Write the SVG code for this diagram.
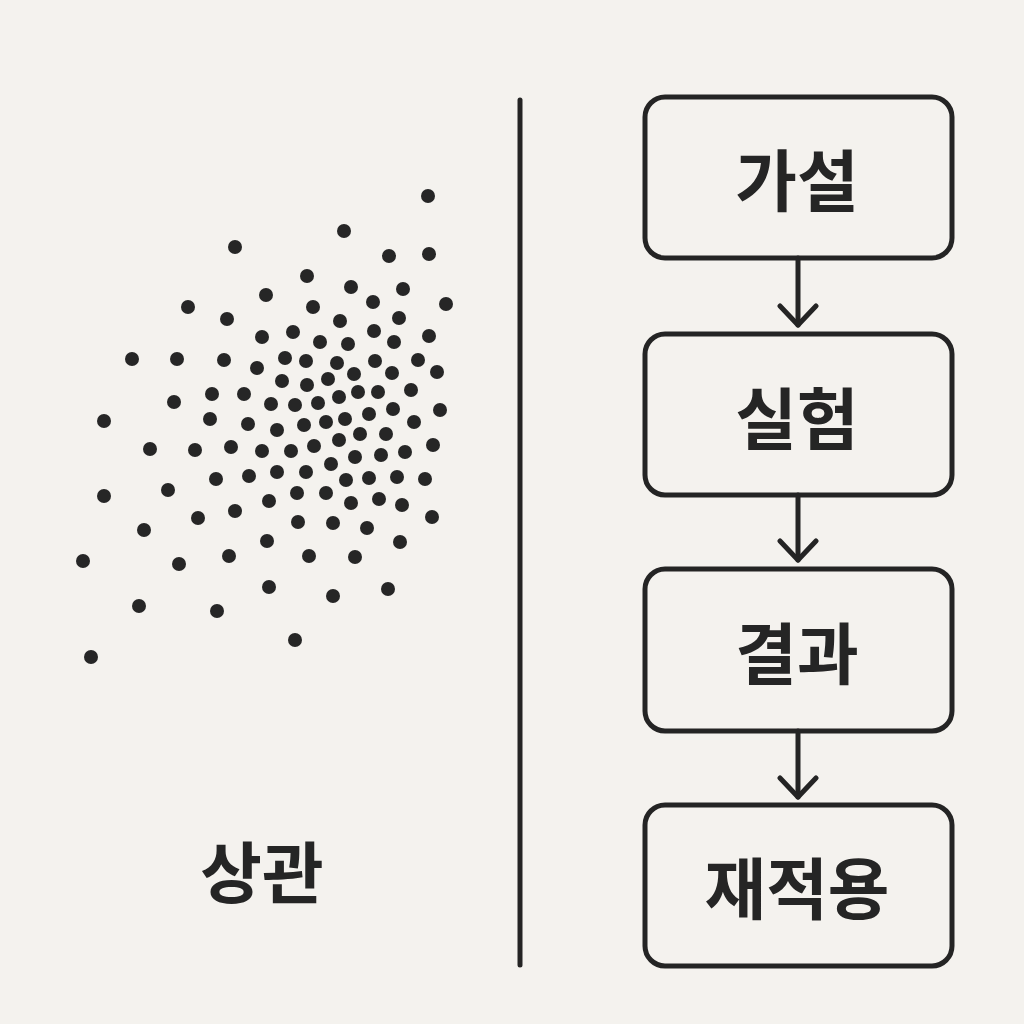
<svg xmlns="http://www.w3.org/2000/svg" width="1024" height="1024" viewBox="0 0 1024 1024">
<style>
.bg{fill:#f4f2ee}
.dot{fill:#262626}
.box{fill:none;stroke:#242424;stroke-width:5}
.lbl{font-family:"Noto Sans CJK KR","Noto Sans",sans-serif;font-weight:700;font-size:67px;fill:#252525;text-anchor:middle;dominant-baseline:central}
.con{fill:none;stroke:#242424;stroke-width:5;stroke-linecap:round;stroke-linejoin:round}
.div{stroke:#242424;stroke-width:5;stroke-linecap:round}
</style>
<defs>
<marker id="arr" viewBox="-22 -22 44 44" markerWidth="44" markerHeight="44" refX="0" refY="0" orient="auto" markerUnits="userSpaceOnUse">
<path d="M-19,-18 L0,0 L-19,18" fill="none" stroke="#242424" stroke-width="5" stroke-linecap="round" stroke-linejoin="round"/>
</marker>
</defs>
<rect class="bg" x="0" y="0" width="1024" height="1024"/>
<g id="scatter">
<circle class="dot" cx="235" cy="247" r="7"/><circle class="dot" cx="266" cy="295" r="7"/><circle class="dot" cx="188" cy="307" r="7"/><circle class="dot" cx="227" cy="319" r="7"/><circle class="dot" cx="262" cy="337" r="7"/>
<circle class="dot" cx="428" cy="196" r="7"/><circle class="dot" cx="344" cy="231" r="7"/><circle class="dot" cx="389" cy="256" r="7"/><circle class="dot" cx="429" cy="254" r="7"/><circle class="dot" cx="307" cy="276" r="7"/>
<circle class="dot" cx="351" cy="287" r="7"/><circle class="dot" cx="403" cy="289" r="7"/><circle class="dot" cx="373" cy="302" r="7"/><circle class="dot" cx="446" cy="304" r="7"/><circle class="dot" cx="313" cy="307" r="7"/>
<circle class="dot" cx="340" cy="321" r="7"/><circle class="dot" cx="399" cy="318" r="7"/><circle class="dot" cx="293" cy="332" r="7"/><circle class="dot" cx="374" cy="331" r="7"/><circle class="dot" cx="429" cy="336" r="7"/>
<circle class="dot" cx="320" cy="342" r="7"/><circle class="dot" cx="348" cy="344" r="7"/><circle class="dot" cx="394" cy="342" r="7"/><circle class="dot" cx="132" cy="359" r="7"/><circle class="dot" cx="177" cy="359" r="7"/>
<circle class="dot" cx="224" cy="360" r="7"/><circle class="dot" cx="257" cy="368" r="7"/><circle class="dot" cx="174" cy="402" r="7"/><circle class="dot" cx="212" cy="394" r="7"/><circle class="dot" cx="244" cy="394" r="7"/>
<circle class="dot" cx="271" cy="404" r="7"/><circle class="dot" cx="104" cy="421" r="7"/><circle class="dot" cx="210" cy="419" r="7"/><circle class="dot" cx="248" cy="424" r="7"/><circle class="dot" cx="150" cy="449" r="7"/>
<circle class="dot" cx="195" cy="450" r="7"/><circle class="dot" cx="231" cy="447" r="7"/><circle class="dot" cx="262" cy="451" r="7"/><circle class="dot" cx="216" cy="479" r="7"/><circle class="dot" cx="249" cy="476" r="7"/>
<circle class="dot" cx="168" cy="490" r="7"/><circle class="dot" cx="104" cy="496" r="7"/><circle class="dot" cx="235" cy="511" r="7"/><circle class="dot" cx="269" cy="501" r="7"/><circle class="dot" cx="285" cy="358" r="7"/>
<circle class="dot" cx="306" cy="361" r="7"/><circle class="dot" cx="337" cy="363" r="7"/><circle class="dot" cx="375" cy="361" r="7"/><circle class="dot" cx="418" cy="360" r="7"/><circle class="dot" cx="282" cy="381" r="7"/>
<circle class="dot" cx="307" cy="385" r="7"/><circle class="dot" cx="328" cy="379" r="7"/><circle class="dot" cx="354" cy="374" r="7"/><circle class="dot" cx="392" cy="373" r="7"/><circle class="dot" cx="437" cy="372" r="7"/>
<circle class="dot" cx="295" cy="405" r="7"/><circle class="dot" cx="318" cy="403" r="7"/><circle class="dot" cx="339" cy="397" r="7"/><circle class="dot" cx="358" cy="392" r="7"/><circle class="dot" cx="378" cy="392" r="7"/>
<circle class="dot" cx="411" cy="390" r="7"/><circle class="dot" cx="440" cy="410" r="7"/><circle class="dot" cx="393" cy="409" r="7"/><circle class="dot" cx="369" cy="414" r="7"/><circle class="dot" cx="345" cy="419" r="7"/>
<circle class="dot" cx="326" cy="422" r="7"/><circle class="dot" cx="304" cy="425" r="7"/><circle class="dot" cx="277" cy="430" r="7"/><circle class="dot" cx="414" cy="422" r="7"/><circle class="dot" cx="386" cy="434" r="7"/>
<circle class="dot" cx="360" cy="434" r="7"/><circle class="dot" cx="339" cy="440" r="7"/><circle class="dot" cx="314" cy="446" r="7"/><circle class="dot" cx="291" cy="451" r="7"/><circle class="dot" cx="433" cy="445" r="7"/>
<circle class="dot" cx="405" cy="452" r="7"/><circle class="dot" cx="381" cy="455" r="7"/><circle class="dot" cx="355" cy="457" r="7"/><circle class="dot" cx="331" cy="464" r="7"/><circle class="dot" cx="306" cy="472" r="7"/>
<circle class="dot" cx="277" cy="472" r="7"/><circle class="dot" cx="346" cy="480" r="7"/><circle class="dot" cx="369" cy="478" r="7"/><circle class="dot" cx="397" cy="477" r="7"/><circle class="dot" cx="425" cy="479" r="7"/>
<circle class="dot" cx="297" cy="493" r="7"/><circle class="dot" cx="326" cy="493" r="7"/><circle class="dot" cx="379" cy="499" r="7"/><circle class="dot" cx="351" cy="503" r="7"/><circle class="dot" cx="402" cy="505" r="7"/>
<circle class="dot" cx="198" cy="518" r="7"/><circle class="dot" cx="144" cy="530" r="7"/><circle class="dot" cx="267" cy="541" r="7"/><circle class="dot" cx="229" cy="556" r="7"/><circle class="dot" cx="83" cy="561" r="7"/>
<circle class="dot" cx="179" cy="564" r="7"/><circle class="dot" cx="269" cy="587" r="7"/><circle class="dot" cx="139" cy="606" r="7"/><circle class="dot" cx="217" cy="611" r="7"/><circle class="dot" cx="91" cy="657" r="7"/>
<circle class="dot" cx="298" cy="522" r="7"/><circle class="dot" cx="333" cy="523" r="7"/><circle class="dot" cx="367" cy="528" r="7"/><circle class="dot" cx="432" cy="517" r="7"/><circle class="dot" cx="309" cy="556" r="7"/>
<circle class="dot" cx="355" cy="557" r="7"/><circle class="dot" cx="400" cy="542" r="7"/><circle class="dot" cx="333" cy="596" r="7"/><circle class="dot" cx="388" cy="589" r="7"/><circle class="dot" cx="295" cy="640" r="7"/>
</g>
<g id="label-correlation">
<text class="lbl" x="262" y="868">상관</text>
</g>
<g id="divider">
<line class="div" x1="520" y1="100" x2="520" y2="965"/>
</g>
<g id="connectors">
<line class="con" x1="798" y1="258" x2="798" y2="325" marker-end="url(#arr)"/>
<line class="con" x1="798" y1="495" x2="798" y2="560" marker-end="url(#arr)"/>
<line class="con" x1="798" y1="731" x2="798" y2="797" marker-end="url(#arr)"/>
</g>
<g id="node-hypothesis">
<rect class="box" x="645" y="97" width="307" height="161" rx="20"/>
<text class="lbl" x="797" y="176">가설</text>
</g>
<g id="node-experiment">
<rect class="box" x="645" y="334" width="307" height="161" rx="20"/>
<text class="lbl" x="797" y="414">실험</text>
</g>
<g id="node-result">
<rect class="box" x="645" y="569" width="307" height="162" rx="20"/>
<text class="lbl" x="797" y="649">결과</text>
</g>
<g id="node-reapply">
<rect class="box" x="645" y="805" width="307" height="161" rx="20"/>
<text class="lbl" x="797" y="884">재적용</text>
</g>
</svg>
